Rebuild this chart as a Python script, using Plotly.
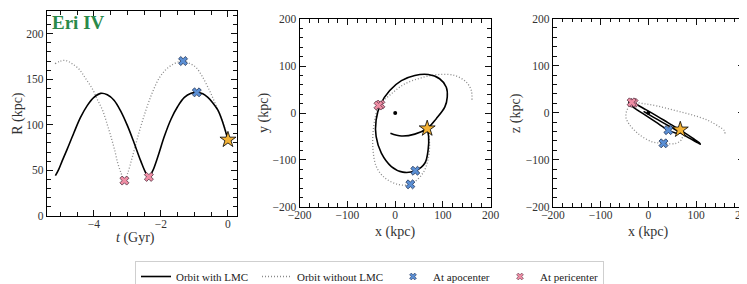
import plotly.graph_objects as go

# ---------------- data ----------------
# Panel 1: galactocentric distance vs time
t_lmc = [-5.15, -5.05, -4.95, -4.8, -4.6, -4.4, -4.2, -4.0, -3.8, -3.6, -3.4,
         -3.2, -3.0, -2.8, -2.6, -2.45, -2.36, -2.25, -2.1, -1.9, -1.7, -1.5,
         -1.3, -1.1, -0.93, -0.75, -0.6, -0.45, -0.3, -0.15, 0.0]
R_lmc = [44, 51, 60, 73, 91, 108, 121, 130, 134.5, 133, 127,
         115, 99, 80, 60, 47, 42.7, 49, 64, 87, 106, 120,
         130, 134.5, 135.6, 134, 130, 124, 116, 102, 83.5]
t_nolmc = [-5.16, -5.0, -4.84, -4.65, -4.44, -4.25, -4.04, -3.9, -3.74, -3.6,
           -3.49, -3.38, -3.29, -3.18, -3.09, -3.0, -2.85, -2.65, -2.45, -2.25,
           -2.04, -1.84, -1.64, -1.45, -1.34, -1.15, -0.95, -0.75, -0.55, -0.4,
           -0.25, -0.1, 0.0]
R_nolmc = [167, 170, 170.7, 167, 161, 151, 139, 128, 115.8, 100,
           86.8, 72, 58, 46, 38.7, 46, 65, 92, 115.8, 136,
           152, 161, 166.4, 169.5, 170, 167.5, 162.8, 152, 137.5, 125,
           112, 97, 84]

t_apo = [-0.93, -1.34]
R_apo = [135.6, 170]
t_peri = [-2.36, -3.09]
R_peri = [42.7, 38.7]
t_now = [0.0]
R_now = [83.5]

# Panels 2 and 3: orbit in galactocentric coordinates (kpc)
x_lmc = [-10, 13, 41, 67, 86, 104, 109, 107, 93, 69, 41, 13, -11.5, -31,
         -40, -40, -29, -8, 16, 42, 62, 69, 70, 67]
y_lmc = [-43, -49, -45, -33, -12, 13, 34, 55, 73, 82, 80, 69, 48, 18,
         -15, -50, -85.5, -114, -126, -123, -107, -78, -50, -33]
z_lmc = [3, -11, -27, -42, -54, -64, -67, -64, -54, -38, -21, -4, 10, 21,
         24, 19, 10, -4, -20, -37, -44, -42, -39, -36]

x_nolmc = [160.8, 159.4, 149, 124.6, 89.6, 54.7, 20, -8, -34, -41.6, -46.5,
           -46.5, -39.6, -22, 5.9, 31.7, 58, 68.7, 72, 67]
y_nolmc = [28.4, 48, 65.7, 80, 82, 75, 62, 41, 16, -8, -43,
           -78, -114, -138, -152, -152, -128, -99.5, -64, -33]
z_nolmc = [-44, -38, -30, -16, -4, 5, 14, 19, 21, 12, 0,
           -12, -25, -44, -61, -65, -65, -58, -48, -36]

x_apo = [42, 31.7]
y_apo = [-123, -152]
z_apo = [-37, -65]
x_peri = [-31, -35]
y_peri = [18, 16]
z_peri = [21, 22]
x_now = [67]
y_now = [-33]
z_now = [-36]
x_mw = [0]
y_mw = [0]
z_mw = [0]

legend_names = ["Orbit with LMC", "Orbit without LMC", "At apocenter", "At pericenter"]

# ---------------- styling ----------------
FONT = "Liberation Serif"
BLUE = "#5b8fd4"
PINK = "#f08ea5"
GOLD = "#f3b236"
DOT = "#8a8a8a"
DOTDASH = "1px,2px"
W, H = 747, 284

fig = go.Figure()

def panel(xs, ys, xa, ya, xs2, ys2, apo, peri, now, mw=None):
    fig.add_trace(go.Scatter(x=xs2, y=ys2, mode="lines", xaxis=xa, yaxis=ya,
                             line=dict(color=DOT, width=1.3, dash=DOTDASH, shape="spline", smoothing=1.0),
                             showlegend=False, hoverinfo="skip"))
    fig.add_trace(go.Scatter(x=xs, y=ys, mode="lines", xaxis=xa, yaxis=ya,
                             line=dict(color="black", width=1.6, shape="spline", smoothing=1.0),
                             showlegend=False, hoverinfo="skip"))
    if mw is not None:
        fig.add_trace(go.Scatter(x=mw[0], y=mw[1], mode="markers", xaxis=xa, yaxis=ya,
                                 marker=dict(color="black", size=4), showlegend=False))
    fig.add_trace(go.Scatter(x=apo[0], y=apo[1], mode="markers", xaxis=xa, yaxis=ya,
                             marker=dict(symbol="x", size=8, color=BLUE,
                                         line=dict(color="#223355", width=0.8)),
                             showlegend=False))
    fig.add_trace(go.Scatter(x=peri[0], y=peri[1], mode="markers", xaxis=xa, yaxis=ya,
                             marker=dict(symbol="x", size=8, color=PINK,
                                         line=dict(color="#553344", width=0.8)),
                             showlegend=False))
    fig.add_trace(go.Scatter(x=now[0], y=now[1], mode="markers", xaxis=xa, yaxis=ya,
                             marker=dict(symbol="star", size=12, color=GOLD,
                                         line=dict(color="black", width=0.8)),
                             showlegend=False))

panel(t_lmc, R_lmc, "x", "y", t_nolmc, R_nolmc,
      (t_apo, R_apo), (t_peri, R_peri), (t_now, R_now))
panel(x_lmc, y_lmc, "x2", "y2", x_nolmc, y_nolmc,
      (x_apo, y_apo), (x_peri, y_peri), (x_now, y_now), (x_mw, y_mw))
panel(x_lmc, z_lmc, "x3", "y3", x_nolmc, z_nolmc,
      (x_apo, z_apo), (x_peri, z_peri), (x_now, z_now), (x_mw, z_mw))

# legend-only entries
fig.add_trace(go.Scatter(x=[None], y=[None], mode="lines", name=legend_names[0],
                         line=dict(color="black", width=1.6), legendwidth=76))
fig.add_trace(go.Scatter(x=[None], y=[None], mode="lines", name=legend_names[1],
                         line=dict(color=DOT, width=1.3, dash=DOTDASH), legendwidth=91))
fig.add_trace(go.Scatter(x=[None], y=[None], mode="markers", name=legend_names[2],
                         marker=dict(symbol="x", size=6, color=BLUE,
                                     line=dict(color="#223355", width=0.6)), legendwidth=62))
fig.add_trace(go.Scatter(x=[None], y=[None], mode="markers", name=legend_names[3],
                         marker=dict(symbol="x", size=6, color=PINK,
                                     line=dict(color="#553344", width=0.6)), legendwidth=58))

def px_dom_x(a, b):
    return [a / W, b / W]

def px_dom_y(top, bottom):
    return [(H - bottom) / H, (H - top) / H]

tickfont = dict(family=FONT, size=11.5, color="#333333")

def axis(dom, rng, dtick, minor, anchor, standoff=0):
    return dict(domain=dom, range=rng, dtick=dtick, tick0=0, showgrid=False, zeroline=False,
                showline=True, linecolor="black", linewidth=1.2, mirror="allticks",
                ticks="inside", ticklen=6, tickwidth=1.2, tickcolor="#111111",
                minor=dict(ticks="inside", ticklen=3.5, tickwidth=1, dtick=minor, tick0=0,
                           tickcolor="#111111", showgrid=False),
                ticklabelstandoff=standoff,
                tickfont=tickfont, anchor=anchor, automargin=False)

fig.update_layout(
    width=W, height=H, margin=dict(l=0, r=0, t=0, b=0),
    paper_bgcolor="white", plot_bgcolor="white",
    font=dict(family=FONT, size=12, color="#222222"),
    xaxis=axis(px_dom_x(39, 229), [-5.4, 0.27], 2, 0.5, "y", -3),
    yaxis=axis(px_dom_y(3, 210), [0, 225], 50, 10, "x"),
    xaxis2=axis(px_dom_x(291.7, 482.7), [-200, 200], 100, 20, "y2", -3),
    yaxis2=axis(px_dom_y(11.3, 201), [-200, 200], 100, 20, "x2"),
    xaxis3=axis(px_dom_x(545, 735.7), [-200, 200], 100, 20, "y3", -3),
    yaxis3=axis(px_dom_y(10.7, 201), [-200, 200], 100, 20, "x3"),
    legend=dict(orientation="h", x=127 / W, xanchor="left", y=(H - 256) / H, yanchor="top",
                bordercolor="#cfcfcf", borderwidth=1, bgcolor="white",
                font=dict(family=FONT, size=11, color="#222222")),
    showlegend=True,
)

titlefont = dict(family=FONT, size=14, color="#333333")
axis_titles = [
    ("R (kpc)", 10, 107, -90),
    ("<i>t</i> (Gyr)", 127, 232, 0),
    ("y (kpc)", 256, 106, -90),
    ("x (kpc)", 387, 226, 0),
    ("z (kpc)", 508, 106, -90),
    ("x (kpc)", 640, 226, 0),
]
for text, cx, cy, ang in axis_titles:
    fig.add_annotation(text=text, xref="paper", yref="paper", x=cx / W, y=(H - cy) / H,
                       xanchor="center", yanchor="middle", textangle=ang,
                       showarrow=False, font=titlefont)

fig.add_annotation(text="<b>Eri IV</b>", xref="paper", yref="paper",
                   x=42 / W, y=(H - 15) / H, xanchor="left", yanchor="middle",
                   showarrow=False, font=dict(family=FONT, size=19, color="#2a8a4a"))

fig.write_html("out.html")
